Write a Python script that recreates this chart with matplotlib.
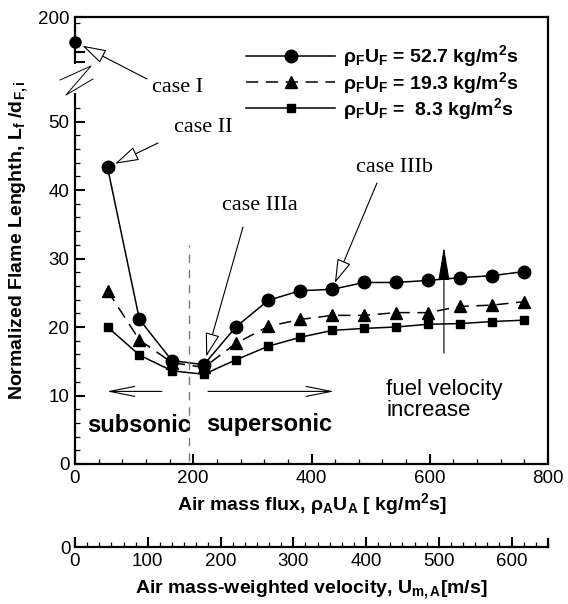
import numpy as np
import matplotlib.pyplot as plt
from matplotlib.ticker import FixedLocator, MultipleLocator, FixedFormatter

plt.rcParams['font.family'] = ['Liberation Sans', 'DejaVu Sans']
plt.rcParams['mathtext.fontset'] = 'custom'
plt.rcParams['mathtext.rm'] = 'Liberation Sans'
plt.rcParams['mathtext.bf'] = 'Liberation Sans:bold'
plt.rcParams['mathtext.it'] = 'Liberation Sans:italic'

# data
air_flux = [55, 109, 164, 218, 272, 327, 381, 435, 489, 543, 597, 651, 706, 760]
len_52 = [43.3, 21.1, 15.1, 14.5, 20.0, 23.9, 25.3, 25.5, 26.5, 26.5, 26.8, 27.2, 27.5, 28.1]
len_19 = [25.3, 18.1, 14.8, 14.1, 17.6, 20.1, 21.1, 21.7, 21.7, 22.1, 22.1, 23.0, 23.2, 23.7]
len_8 = [20.0, 15.9, 13.6, 13.1, 15.2, 17.2, 18.5, 19.5, 19.8, 20.0, 20.4, 20.5, 20.8, 21.0]
case1_flux, case1_len = 0, 175
sonic_flux = 193
labels = [r"ρ$_\mathbf{F}$U$_\mathbf{F}$ = 52.7 kg/m$^\mathbf{2}$s",
          r"ρ$_\mathbf{F}$U$_\mathbf{F}$ = 19.3 kg/m$^\mathbf{2}$s",
          r"ρ$_\mathbf{F}$U$_\mathbf{F}$ =  8.3 kg/m$^\mathbf{2}$s"]

# broken y axis: 0..54 linear, 150..200 squeezed on top
BRK_LO, BRK_HI = 54.2, 150.0
T_LO, T_HI, T_TOP = 54.2, 58.0, 65.26
xp = [-1000.0, BRK_LO, BRK_HI, 1000.0]
fp = [-1000.0, T_LO, T_HI, T_HI + (1000.0 - BRK_HI) * (T_TOP - T_HI) / 50.0]

def fwd(y):
    return np.interp(y, xp, fp)

def inv(t):
    return np.interp(t, fp, xp)

fig = plt.figure(figsize=(5.68, 6.04), dpi=100)
ax = fig.add_axes([75/568, 140/604, 473/568, 447/604])
ax.set_yscale('function', functions=(fwd, inv))
ax.set_xlim(0, 800)
ax.set_ylim(0, 200)

l1, = ax.plot(air_flux, len_52, '-', color='black', lw=1.1, marker='o', ms=9)
l2, = ax.plot(air_flux, len_19, color='black', lw=1.1, ls=(0, (8, 5)), marker='^', ms=8)
l3, = ax.plot(air_flux, len_8, '-', color='black', lw=1.1, marker='s', ms=6)
ax.plot([case1_flux], [case1_len], 'o', color='black', ms=8, clip_on=False, zorder=5)

ax.plot([sonic_flux, sonic_flux], [0.5, 32], color='#777777', lw=1.0, ls=(0, (6, 5)))

# frame
for s in ['top', 'right', 'bottom']:
    ax.spines[s].set_linewidth(1.6)
ax.spines['left'].set_visible(False)
ax.plot([0, 0], [0, BRK_LO], color='black', lw=1.6, clip_on=False, solid_capstyle='butt')
ax.plot([0, 0], [153, 200], color='black', lw=1.6, clip_on=False, solid_capstyle='butt')
zx = np.array([60, 91, 66, 93])
zy = np.array([80, 66, 95, 79])
ax.plot((zx - 75) / 473, (464 - zy) / 447, color='black', lw=0.7,
        transform=ax.transAxes, clip_on=False)

ax.xaxis.set_major_locator(MultipleLocator(200))
ax.xaxis.set_minor_locator(MultipleLocator(40))
yt = [0, 10, 20, 30, 40, 50, 165, 155, 200]
ax.yaxis.set_major_locator(FixedLocator(yt))
ax.yaxis.set_major_formatter(FixedFormatter(['0', '10', '20', '30', '40', '50', '', '', '200']))
ax.yaxis.set_minor_locator(FixedLocator([v for v in range(2, 54, 2) if v % 10] + [194]))
ax.tick_params(which='major', direction='in', length=7, width=1.5, labelsize=13.5,
               top=False, right=False, pad=4)
ax.tick_params(which='minor', direction='in', length=3.5, width=0.9, top=False, right=False)

ax.set_xlabel(r"Air mass flux, ρ$_\mathbf{A}$U$_\mathbf{A}$ [ kg/m$^\mathbf{2}$s]",
              fontsize=14, fontweight='bold', labelpad=3)
ax.set_ylabel(r"Normalized Flame Lenghth, L$_\mathbf{f}$ /d$_\mathbf{F,i}$",
              fontsize=14, fontweight='bold', labelpad=6)

ax.legend([l1, l2, l3], labels, loc='upper right', bbox_to_anchor=(0.975, 0.98),
          frameon=False, prop={'weight': 'bold', 'size': 14},
          handlelength=4.6, handletextpad=0.4, labelspacing=0.02)

# annotations
serif = dict(family='Liberation Serif', fontsize=16)
def afrac(px, py):
    return ((px - 75) / 473, (464 - py) / 447)

hollow = dict(arrowstyle='-|>,head_length=1.5,head_width=0.45', fc='white', ec='black',
              lw=0.8, mutation_scale=10, shrinkA=0)
ax.text(*afrac(152, 87), "case I", ha='left', va='center', transform=ax.transAxes, **serif)
ax.annotate('', xy=(case1_flux, case1_len), xycoords='data', xytext=afrac(147, 79),
            textcoords='axes fraction', arrowprops=dict(hollow, shrinkB=6), annotation_clip=False)
ax.text(*afrac(203, 128), "case II", ha='center', va='center', transform=ax.transAxes, **serif)
ax.annotate('', xy=(air_flux[0], len_52[0]), xycoords='data', xytext=afrac(158, 143),
            textcoords='axes fraction', arrowprops=dict(hollow, shrinkB=6))
ax.text(*afrac(260, 206), "case IIIa", ha='center', va='center', transform=ax.transAxes, **serif)
ax.annotate('', xy=(air_flux[3], len_52[3]), xycoords='data', xytext=afrac(243, 227),
            textcoords='axes fraction', arrowprops=dict(hollow, shrinkB=6))
ax.text(*afrac(394, 168), "case IIIb", ha='center', va='center', transform=ax.transAxes, **serif)
ax.annotate('', xy=(air_flux[7], len_52[7]), xycoords='data', xytext=afrac(377, 183),
            textcoords='axes fraction', arrowprops=dict(hollow, shrinkB=5))

openarr = dict(arrowstyle='->,head_length=1.8,head_width=0.36', color='black', lw=0.8,
               mutation_scale=10, shrinkA=0, shrinkB=0)
ax.annotate('', xy=(54, 10.6), xytext=(147, 10.6), arrowprops=openarr)
ax.annotate('', xy=(438, 10.6), xytext=(225, 10.6), arrowprops=openarr)
ax.annotate('', xy=(624, 31.7), xytext=(624, 16.2),
            arrowprops=dict(arrowstyle='-|>,head_length=2.1,head_width=0.35', fc='black',
                            ec='black', lw=0.8, mutation_scale=10, shrinkA=0, shrinkB=0))

ax.text(*afrac(87, 425), "subsonic", ha='left', va='center', transform=ax.transAxes,
        fontsize=17, fontweight='bold')
ax.text(*afrac(206, 425), "supersonic", ha='left', va='center', transform=ax.transAxes,
        fontsize=17, fontweight='bold')
ax.text(*afrac(386, 400), "fuel velocity\nincrease", ha='left', va='center',
        transform=ax.transAxes, fontsize=16, linespacing=1.0)

# second x scale
ax2 = fig.add_axes([75/568, 57/604, 473/568, 8/604])
ax2.set_xlim(0, 650)
ax2.set_ylim(0, 1)
ax2.spines['top'].set_visible(False)
for s in ['left', 'right', 'bottom']:
    ax2.spines[s].set_linewidth(1.6)
ax2.xaxis.set_major_locator(MultipleLocator(100))
ax2.xaxis.set_minor_locator(MultipleLocator(100 / 6))
ax2.set_yticks([0])
ax2.set_yticklabels(['0'])
ax2.tick_params(axis='y', length=0, labelsize=13.5, pad=3)
ax2.tick_params(axis='x', which='major', direction='in', length=7, width=1.5,
                labelsize=13.5, pad=4)
ax2.tick_params(axis='x', which='minor', direction='in', length=3.5, width=0.9)
ax2.set_xlabel(r"Air mass-weighted velocity, U$_\mathbf{m,A}$[m/s]",
               fontsize=14, fontweight='bold', labelpad=6)

fig.savefig('out.png', dpi=100)
